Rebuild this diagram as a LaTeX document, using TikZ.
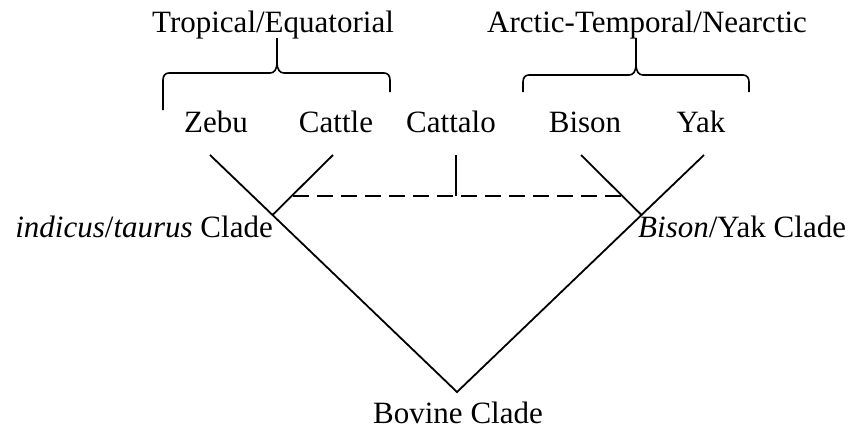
\documentclass[tikz,border=0pt]{standalone}
\usepackage{fontspec}
\setmainfont{Liberation Serif}
\begin{document}
\begin{tikzpicture}[x=1pt,y=-1pt,
  lbl/.style={inner sep=0pt,font=\fontsize{31}{36}\selectfont},
  branch/.style={line width=1.8pt},
  hybrid/.style={line width=1.8pt,dash pattern=on 16pt off 8pt},
  brace/.style={line width=1.6pt}]
\useasboundingbox (0,0) rectangle (858,431);
% labels
\node[lbl,anchor=base] (trop) at (273,32) {Tropical/Equatorial};
\node[lbl,anchor=base west] (arctic) at (487,32) {Arctic-Temporal/Nearctic};
\node[lbl,anchor=base] (zebu) at (216,132) {Zebu};
\node[lbl,anchor=base] (cattle) at (336,132) {Cattle};
\node[lbl,anchor=base] (cattalo) at (451,132) {Cattalo};
\node[lbl,anchor=base] (bison) at (585,132) {Bison};
\node[lbl,anchor=base] (yak) at (701,132) {Yak};
\node[lbl,anchor=base east] (itclade) at (273,237) {\textit{indicus}/\textit{taurus} Clade};
\node[lbl,anchor=base west] (byclade) at (638,237) {\textit{Bison}/Yak Clade};
\node[lbl,anchor=base] (bovine) at (458,423) {Bovine Clade};
% tree points
\coordinate (apex) at (457,392);
\coordinate (zebutop) at (210,155);
\coordinate (yaktop) at (704,155);
\coordinate (lj) at (272.5,215);
\coordinate (rj) at (641.5,215);
\coordinate (cattletop) at (333,155);
\coordinate (bisontop) at (581,155);
\coordinate (cattalotop) at (456,155);
\coordinate (dl) at (293,196);
\coordinate (dm) at (456,196);
\coordinate (dr) at (621,196);
% branches
\draw[branch] (zebutop) -- (apex) -- (yaktop);
\draw[branch] (cattletop) -- (lj);
\draw[branch] (bisontop) -- (rj);
\draw[branch] (cattalotop) -- (dm);
\draw[hybrid] (dl) -- (dr);
% braces
\draw[brace] (163,110) -- (163,80) .. controls (163,76) and (165,73) .. (169,73) -- (270,73) .. controls (274,73) and (277,70) .. (277,62) -- (277,38);
\draw[brace] (390,92) -- (390,80) .. controls (390,76) and (388,73) .. (384,73) -- (284,73) .. controls (280,73) and (277,70) .. (277,62);
\draw[brace] (523,92) -- (523,82) .. controls (523,78) and (525,75) .. (529,75) -- (629,75) .. controls (633,75) and (636,72) .. (636,64) -- (636,38);
\draw[brace] (749,92) -- (749,82) .. controls (749,78) and (747,75) .. (743,75) -- (643,75) .. controls (639,75) and (636,72) .. (636,64);
\end{tikzpicture}
\end{document}
